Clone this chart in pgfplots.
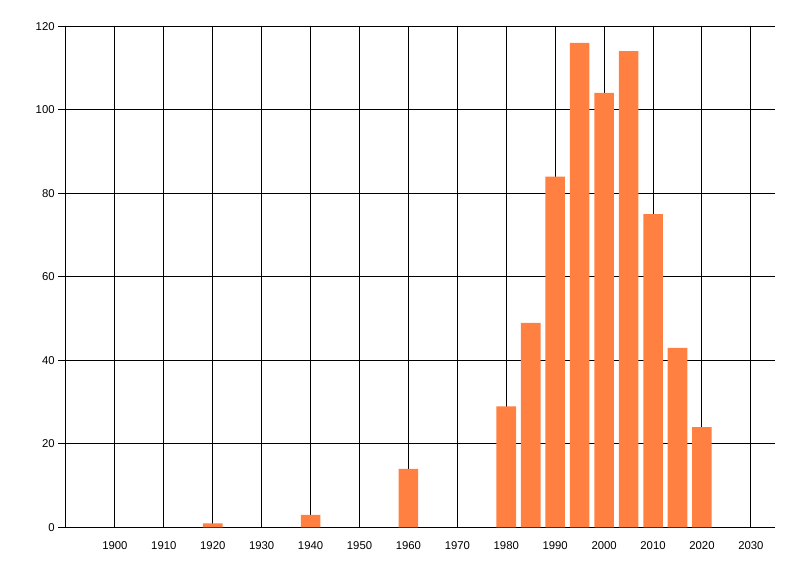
\documentclass[border=0pt]{standalone}
\usepackage{fontspec}
\setmainfont{Liberation Sans}
\usepackage{pgfplots}
\pgfplotsset{compat=1.18}
\definecolor{barorange}{RGB}{255,128,64}
\begin{document}
\begin{tikzpicture}[x=1pt,y=1pt]
\useasboundingbox (-49.5pt,-36.4pt) rectangle (550.5pt,395.6pt);
\begin{axis}[
  at={(0,0)}, anchor=south west,
  scale only axis,
  width=532pt, height=376pt,
  xmin=1890, xmax=2035, ymin=0, ymax=120,
  axis lines=left,
  axis line style={-, line width=0.75pt, black},
  xtick={1900,1910,...,2030},
  ytick={0,20,...,120},
  grid=major,
  major grid style={line width=0.75pt, black},
  tick style={line width=0.75pt, black},
  tick align=outside,
  x tick style={draw=none},
  major tick length=6pt,
  xticklabel style={font=\fontsize{8.5}{10}\selectfont, yshift=-1pt},
  yticklabel style={font=\fontsize{8.5}{10}\selectfont, xshift=1pt},
  /pgf/number format/assume math mode=true,
  /pgf/number format/1000 sep={},
  clip=false,
]
\addplot[ybar, bar width=4, fill=barorange, draw=none] coordinates {
 (1920,1) (1940,3) (1960,14) (1980,29) (1985,49) (1990,84) (1995,116)
 (2000,104) (2005,114) (2010,75) (2015,43) (2020,24)
};
\end{axis}
\end{tikzpicture}
\end{document}
